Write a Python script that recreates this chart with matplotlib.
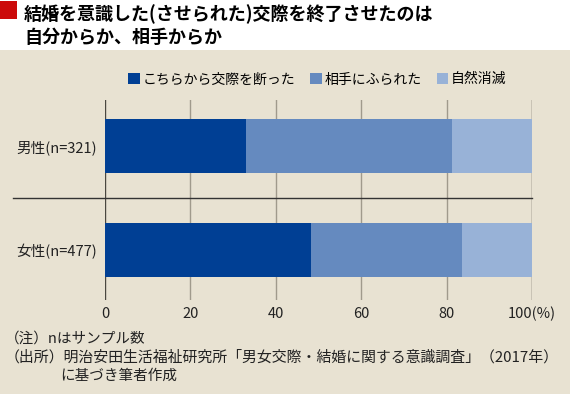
import matplotlib
matplotlib.use("Agg")
import matplotlib.pyplot as plt
from matplotlib.patches import Rectangle

plt.rcParams["font.family"] = ["Noto Sans CJK JP", "DejaVu Sans"]

categories = ["男性(n=321)", "女性(n=477)"]
series_names = ["こちらから交際を断った", "相手にふられた", "自然消滅"]
rejected = [33.0, 48.2]
dumped = [48.3, 35.4]
faded = [18.7, 16.4]
ticks = [0, 20, 40, 60, 80, 100]
tick_labels = ["0", "20", "40", "60", "80", "100(%)"]
colors = ["#003f94", "#658abf", "#98b2d7"]
bg = "#e8e2d2"

W, H = 570, 394
fig = plt.figure(figsize=(W / 100, H / 100), dpi=100)
fig.patch.set_facecolor("white")

# beige panel below the title
fig.patches.append(Rectangle((0, 0), 1, 1 - 50 / H, transform=fig.transFigure,
                             facecolor=bg, edgecolor="none", zorder=0))
# red marker
fig.patches.append(Rectangle((0 / W, 1 - 19 / H), 17 / W, 18 / H, transform=fig.transFigure,
                             facecolor="#cc0a0a", edgecolor="none", zorder=1))
fig.text(24 / W, 1 - 14 / H, "結婚を意識した(させられた)交際を終了させたのは",
         fontsize=13, fontweight="bold", va="center", ha="left")
fig.text(24 / W, 1 - 37 / H, "自分からか、相手からか",
         fontsize=13, fontweight="bold", va="center", ha="left")

ax = fig.add_axes([105 / W, 1 - 300 / H, 427 / W, 200 / H])
ax.set_zorder(3)
ax.set_facecolor("none")
ys = list(range(len(categories)))
left = [0] * len(categories)
for vals, name, c in zip([rejected, dumped, faded], series_names, colors):
    ax.barh(ys, vals, left=left, height=0.52, color=c, label=name, zorder=2)
    left = [a + b for a, b in zip(left, vals)]

ax.set_xlim(0, 100)
ax.set_ylim(1.48, -0.442)
for t in ticks:
    col = "#4a4740" if t in (0, 100) else "#a09a8c"
    ax.axvline(t, color=col, lw=1.0, zorder=1)
# divider between the two groups, running into the label area
ax.plot([-21.6, 100], [0.5, 0.5], color="#333333", lw=1.0, clip_on=False, zorder=3)

for s in ax.spines.values():
    s.set_visible(False)
ax.set_xticks(ticks)
ax.set_xticklabels(tick_labels, fontsize=10.5, color="#222222")
ax.tick_params(axis="x", length=0, pad=5)
ax.set_yticks(ys)
ax.set_yticklabels(categories, fontsize=10.5, color="#222222")
ax.tick_params(axis="y", length=0, pad=6)

leg = ax.legend(loc="lower center", bbox_to_anchor=(0.497, 1.04), ncol=3, frameon=False,
                fontsize=10, handlelength=0.85, handleheight=0.85, handletextpad=0.15,
                columnspacing=1.1, borderaxespad=0)

fig.text(5 / W, 1 - 339 / H, "（注）nはサンプル数", fontsize=10.5, va="center", color="#222222")
fig.text(5 / W, 1 - 357 / H, "（出所）明治安田生活福祉研究所「男女交際・結婚に関する意識調査」（2017年）",
         fontsize=10.75, va="center", color="#222222")
fig.text(60 / W, 1 - 376 / H, "に基づき筆者作成", fontsize=10.5, va="center", color="#222222")

fig.savefig("out.png", dpi=100, facecolor=fig.get_facecolor())
